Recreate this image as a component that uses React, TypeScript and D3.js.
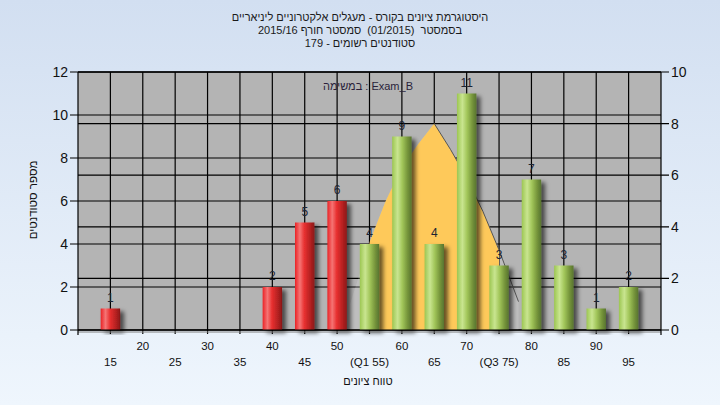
import { useEffect } from "react";
import * as d3 from "d3";

// grade buckets and student counts
const grades = [15, 20, 25, 30, 35, 40, 45, 50, 55, 60, 65, 70, 75, 80, 85, 90, 95];
const gradeLabels = ["15", "20", "25", "30", "35", "40", "45", "50", "(Q1 55)", "60", "65", "70", "(Q3 75)", "80", "85", "90", "95"];
const counts = [1, 0, 0, 0, 0, 2, 5, 6, 4, 9, 4, 11, 3, 7, 3, 1, 2];

// distribution curve (right axis)
const curveGrades = [52, 55, 57.5, 60, 62.5, 65, 67.5, 70, 72.5, 75, 78];
const curveValues = [1.0, 3.4, 5.0, 6.3, 7.2, 8.0, 7.0, 5.9, 4.6, 3.1, 1.1];
const q1 = 55;
const q3 = 75;
const passGrade = 55;

const leftTicks = [0, 2, 4, 6, 8, 10, 12];
const rightTicks = [0, 2, 4, 6, 8, 10];

const titleLines = [
  "היסטוגרמת ציונים בקורס - מעגלים אלקטרוניים ליניאריים",
  "בסמסטר  (01/2015)  סמסטר חורף 2015/16",
  "סטודנטים רשומים - 179",
];
const legendText = "במשימה : Exam_B";
const yTitle = "מספר סטודנטים";
const xTitle = "טווח ציונים";

const W = 720;
const H = 405;
const plot = { left: 78, right: 661, top: 72, bottom: 330 };
const FONT = "'Liberation Sans', 'DejaVu Sans', Arial, sans-serif";

export default function App() {
  useEffect(() => {
    document.body.style.margin = "0";
  }, []);

  const x = d3.scaleLinear().domain([10, 100]).range([plot.left, plot.right]);
  const yL = d3.scaleLinear().domain([0, 12]).range([plot.bottom, plot.top]);
  const yR = d3.scaleLinear().domain([0, 10]).range([plot.bottom, plot.top]);
  const step = x(20) - x(15);
  const barW = step * 0.6;

  const pts = curveGrades.map((g, i) => [g, curveValues[i]] as [number, number]);
  const area = d3
    .area<[number, number]>()
    .x((d) => x(d[0]))
    .y0(yR(0))
    .y1((d) => yR(d[1]));
  const line = d3
    .line<[number, number]>()
    .x((d) => x(d[0]))
    .y((d) => yR(d[1]));
  const peakIdx = curveValues.indexOf(d3.max(curveValues) as number);

  return (
    <svg width={W} height={H} style={{ display: "block" }}>
      <defs>
        <linearGradient id="bg" x1="0" y1="0" x2="0" y2="1">
          <stop offset="0%" stopColor="#d2dff1" />
          <stop offset="100%" stopColor="#eff6fd" />
        </linearGradient>
        <linearGradient id="red" x1="0" y1="0" x2="1" y2="0">
          <stop offset="0%" stopColor="#ea2226" />
          <stop offset="25%" stopColor="#f57474" />
          <stop offset="48%" stopColor="#e83030" />
          <stop offset="80%" stopColor="#b22020" />
          <stop offset="100%" stopColor="#8a1818" />
        </linearGradient>
        <linearGradient id="green" x1="0" y1="0" x2="1" y2="0">
          <stop offset="0%" stopColor="#9cc652" />
          <stop offset="28%" stopColor="#c9e590" />
          <stop offset="52%" stopColor="#a2c65a" />
          <stop offset="80%" stopColor="#74933a" />
          <stop offset="100%" stopColor="#587430" />
        </linearGradient>
        <filter id="shadow" x="-30%" y="-10%" width="180%" height="130%">
          <feDropShadow dx="4" dy="3" stdDeviation="2" floodColor="#000" floodOpacity="0.6" />
        </filter>
        <clipPath id="iqr">
          <rect x={x(q1)} y={plot.top} width={x(q3) - x(q1)} height={plot.bottom - plot.top} />
        </clipPath>
      </defs>

      <rect width={W} height={H} fill="url(#bg)" />

      {/* titles */}
      {titleLines.map((t, i) => (
        <text
          key={i}
          x={360}
          y={21 + i * 13}
          textAnchor="middle"
          direction="rtl"
          fontFamily={FONT}
          fontSize={11}
          fill="#1a1a1a"
          style={{ whiteSpace: "pre" }}
        >
          {t}
        </text>
      ))}

      {/* plot background */}
      <rect x={plot.left} y={plot.top} width={plot.right - plot.left} height={plot.bottom - plot.top} fill="#b4b4b4" />

      {/* grid */}
      <g stroke="#000" strokeWidth={1.2}>
        {grades.map((g) => (
          <line key={"v" + g} x1={x(g)} x2={x(g)} y1={plot.top} y2={plot.bottom + 4} />
        ))}
        {leftTicks.map((t) => (
          <line key={"l" + t} x1={plot.left - 8} x2={plot.right} y1={yL(t)} y2={yL(t)} />
        ))}
        {rightTicks.map((t) => (
          <line key={"r" + t} x1={plot.left} x2={plot.right + 8} y1={yR(t)} y2={yR(t)} />
        ))}
      </g>

      {/* distribution curve */}
      <path d={area(pts) || ""} fill="#ffffff" fillOpacity={0.14} />
      <path d={area(pts) || ""} fill="#fec95a" clipPath="url(#iqr)" />
      <path d={line(pts.slice(peakIdx)) || ""} fill="none" stroke="#555" strokeWidth={1} />

      {/* bars */}
      {grades.map((g, i) =>
        counts[i] > 0 ? (
          <rect
            key={"b" + g}
            x={x(g) - barW / 2}
            y={yL(counts[i])}
            width={barW}
            height={yL(0) - yL(counts[i])}
            fill={g < passGrade ? "url(#red)" : "url(#green)"}
            filter="url(#shadow)"
          />
        ) : null
      )}
      {grades.map((g, i) =>
        counts[i] > 0 ? (
          <text
            key={"bl" + g}
            x={x(g)}
            y={yL(counts[i]) - 7}
            textAnchor="middle"
            fontFamily={FONT}
            fontSize={12}
            fill="#1c2433"
          >
            {counts[i]}
          </text>
        ) : null
      )}

      {/* frame and axes */}
      <line x1={plot.left} x2={plot.right} y1={plot.bottom + 2} y2={plot.bottom + 2} stroke="#808080" strokeWidth={1} />
      <g stroke="#000" strokeWidth={1.2} fill="none">
        <line x1={plot.left} x2={plot.left} y1={plot.top} y2={plot.bottom + 5} />
        <line x1={plot.right} x2={plot.right} y1={plot.top} y2={plot.bottom + 5} />
        <line x1={plot.left} x2={plot.right} y1={plot.top} y2={plot.top} />
        <line x1={plot.left} x2={plot.right} y1={plot.bottom} y2={plot.bottom} />
      </g>

      {/* left axis labels */}
      {leftTicks.map((t) => (
        <text key={"lt" + t} x={plot.left - 10} y={yL(t) + 5} textAnchor="end" fontFamily={FONT} fontSize={14} fill="#111">
          {t}
        </text>
      ))}
      {/* right axis labels */}
      {rightTicks.map((t) => (
        <text key={"rt" + t} x={plot.right + 10} y={yR(t) + 5} textAnchor="start" fontFamily={FONT} fontSize={14} fill="#111">
          {t}
        </text>
      ))}

      {/* x labels (staggered) */}
      {grades.map((g, i) => (
        <text
          key={"xt" + g}
          x={x(g)}
          y={i % 2 === 0 ? 366 : 350}
          textAnchor="middle"
          fontFamily={FONT}
          fontSize={11.5}
          fill="#111"
        >
          {gradeLabels[i]}
        </text>
      ))}

      <text x={368} y={385} textAnchor="middle" direction="rtl" fontFamily={FONT} fontSize={11} fill="#111">
        {xTitle}
      </text>
      <text
        transform={`translate(37,200) rotate(-90)`}
        textAnchor="middle"
        direction="rtl"
        fontFamily={FONT}
        fontSize={11.5}
        fill="#111"
      >
        {yTitle}
      </text>
      <text x={368} y={90} textAnchor="middle" fontFamily={FONT} fontSize={11} fill="#2a1f3a">
        {legendText}
      </text>
    </svg>
  );
}
